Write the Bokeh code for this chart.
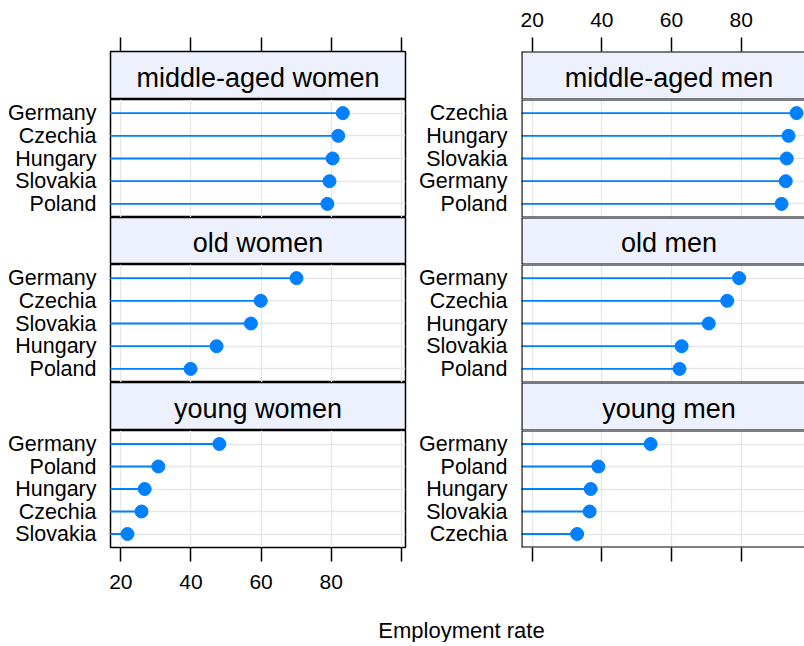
from bokeh.plotting import figure
from bokeh.models import Range1d, FixedTicker, LinearAxis, Label, Span, ColumnDataSource
from bokeh.layouts import column, row
from bokeh.embed import file_html
from bokeh.resources import INLINE

# ---------------- data ----------------
x_ticks = [20, 40, 60, 80, 100]
x_tick_labels = ["20", "40", "60", "80", ""]
x_label = "Employment rate"

left_titles = ["middle-aged women", "old women", "young women"]
right_titles = ["middle-aged men", "old men", "young men"]

mw_countries = ["Germany", "Czechia", "Hungary", "Slovakia", "Poland"]
mw_values = [83.3, 82.0, 80.4, 79.5, 78.9]
ow_countries = ["Germany", "Czechia", "Slovakia", "Hungary", "Poland"]
ow_values = [70.1, 59.9, 57.1, 47.3, 39.9]
yw_countries = ["Germany", "Poland", "Hungary", "Czechia", "Slovakia"]
yw_values = [48.1, 30.7, 26.8, 25.9, 21.9]

mm_countries = ["Czechia", "Hungary", "Slovakia", "Germany", "Poland"]
mm_values = [95.9, 93.6, 93.1, 92.8, 91.6]
om_countries = ["Germany", "Czechia", "Hungary", "Slovakia", "Poland"]
om_values = [79.4, 76.0, 70.7, 62.9, 62.3]
ym_countries = ["Germany", "Poland", "Hungary", "Slovakia", "Czechia"]
ym_values = [54.0, 39.0, 36.8, 36.5, 32.9]

# ---------------- style ----------------
FONT = "Liberation Sans"
BLUE = "#0080FF"
STRIP_BG = "#ECF1FD"
GRID = "#E6E6E6"
BORDER_W = 1.5
SPAN_W = 2.2
TICK_SIZE = "21px"
CAT_SIZE = "21.5px"
STRIP_SIZE = "27px"
XLAB_SIZE = "22px"

# column geometry (pixels)
L_LEFT, L_FRAME, L_RIGHT = 110, 295, 2
R_LEFT, R_FRAME, R_RIGHT = 114, 283, 0
L_START, L_PXU = 17.06, 3.507
R_START, R_PXU = 16.93, 3.483
xr_left = Range1d(L_START, L_START + L_FRAME / L_PXU)
xr_right = Range1d(R_START, R_START + R_FRAME / R_PXU)
L_CENTER = L_START + 295 / L_PXU / 2
R_CENTER = R_START + 295 / R_PXU / 2

TOP_BORDER = 51
BOTTOM_BORDER = 50
STRIP_H = [48, 47, 48]
DATA_H = [118, 118, 117]
XLAB_H = 45


def base_fig(width, height, xr, yr, lb, rb, tb=0, bb=0):
    p = figure(width=width, height=height, x_range=xr, y_range=yr,
               output_backend="svg", toolbar_location=None,
               x_axis_location=None, y_axis_location=None,
               min_border=0, min_border_left=lb, min_border_right=rb,
               min_border_top=tb, min_border_bottom=bb)
    p.background_fill_color = "white"
    p.border_fill_color = "white"
    return p


def add_border(p, is_right, xr, y0, y1):
    if not is_right:
        p.outline_line_color = "black"
        p.outline_line_width = BORDER_W
    else:
        p.outline_line_color = None
        p.add_layout(Span(location=xr.start, dimension="height",
                          line_color="black", line_width=SPAN_W))
        p.add_layout(Span(location=y0, dimension="width",
                          line_color="black", line_width=SPAN_W))
        p.add_layout(Span(location=y1, dimension="width",
                          line_color="black", line_width=SPAN_W))


def x_axis(show_labels, standoff):
    ax = LinearAxis(ticker=FixedTicker(ticks=x_ticks))
    ax.major_label_overrides = {t: s for t, s in zip(x_ticks, x_tick_labels)}
    ax.axis_line_color = None
    ax.major_tick_out = 14
    ax.major_tick_in = 0
    ax.major_tick_line_width = BORDER_W
    ax.major_tick_line_color = "black"
    ax.minor_tick_line_color = None
    ax.major_label_text_font = FONT
    ax.major_label_text_font_size = TICK_SIZE
    ax.major_label_text_color = "black" if show_labels else None
    ax.major_label_standoff = standoff
    return ax


def strip_fig(title, is_right, idx):
    xr = xr_right if is_right else xr_left
    lb, fr, rb = (R_LEFT, R_FRAME, R_RIGHT) if is_right else (L_LEFT, L_FRAME, L_RIGHT)
    tb = TOP_BORDER if idx == 0 else 0
    p = base_fig(lb + fr + rb, STRIP_H[idx] + tb, xr, Range1d(0, 1), lb, rb, tb=tb)
    p.background_fill_color = STRIP_BG
    p.xgrid.visible = False
    p.ygrid.visible = False
    if idx == 0:
        p.add_layout(x_axis(is_right, 11), "above")
    add_border(p, is_right, xr, 0, 1)
    p.add_layout(Label(x=R_CENTER if is_right else L_CENTER, y=0.5, y_offset=-2,
                       text=title, text_align="center", text_baseline="middle",
                       text_font=FONT, text_font_size=STRIP_SIZE, text_color="black"))
    return p


def data_fig(countries, values, is_right, idx):
    xr = xr_right if is_right else xr_left
    lb, fr, rb = (R_LEFT, R_FRAME, R_RIGHT) if is_right else (L_LEFT, L_FRAME, L_RIGHT)
    n = len(countries)
    pos = list(range(n, 0, -1))
    bb = BOTTOM_BORDER if idx == 2 else 0
    yr = Range1d(0.4, n + 0.6)
    p = base_fig(lb + fr + rb, DATA_H[idx] + bb, xr, yr, lb, rb, bb=bb)
    p.xgrid.ticker = FixedTicker(ticks=x_ticks)
    p.ygrid.ticker = FixedTicker(ticks=pos)
    p.grid.grid_line_color = GRID
    p.grid.grid_line_width = 1.3

    yax = LinearAxis(ticker=FixedTicker(ticks=pos))
    yax.major_label_overrides = {k: c for k, c in zip(pos, countries)}
    yax.axis_line_color = None
    yax.major_tick_line_color = None
    yax.minor_tick_line_color = None
    yax.major_tick_out = 0
    yax.major_tick_in = 0
    yax.major_label_standoff = 14
    yax.major_label_text_font = FONT
    yax.major_label_text_font_size = CAT_SIZE
    yax.major_label_text_color = "black"
    p.add_layout(yax, "left")

    if idx == 2:
        p.add_layout(x_axis(not is_right, 13), "below")

    src = ColumnDataSource(dict(country=countries, value=values, pos=pos))
    p.segment(x0=0, y0="pos", x1="value", y1="pos", source=src,
              line_color=BLUE, line_width=1.8)
    p.scatter(x="value", y="pos", source=src, size=13,
              fill_color=BLUE, line_color=BLUE)
    add_border(p, is_right, xr, yr.start, yr.end)
    return p


left_data = [(mw_countries, mw_values), (ow_countries, ow_values), (yw_countries, yw_values)]
right_data = [(mm_countries, mm_values), (om_countries, om_values), (ym_countries, ym_values)]

left_children = []
right_children = []
for i in range(3):
    left_children.append(strip_fig(left_titles[i], False, i))
    left_children.append(data_fig(left_data[i][0], left_data[i][1], False, i))
    right_children.append(strip_fig(right_titles[i], True, i))
    right_children.append(data_fig(right_data[i][0], right_data[i][1], True, i))

left_col = column(*left_children, spacing=0)
right_col = column(*right_children, spacing=0)

TOTAL_W = L_LEFT + L_FRAME + L_RIGHT + R_LEFT + R_FRAME + R_RIGHT
lab = base_fig(TOTAL_W, XLAB_H, Range1d(0, TOTAL_W), Range1d(0, XLAB_H), 0, 0)
lab.xgrid.visible = False
lab.ygrid.visible = False
lab.outline_line_color = None
lab.add_layout(Label(x=461, y=12.5, text=x_label, text_align="center",
                     text_baseline="middle", text_font=FONT,
                     text_font_size=XLAB_SIZE, text_color="black"))

layout = column(row(left_col, right_col, spacing=0), lab, spacing=0)

open("out.html", "w").write(file_html(layout, INLINE))
